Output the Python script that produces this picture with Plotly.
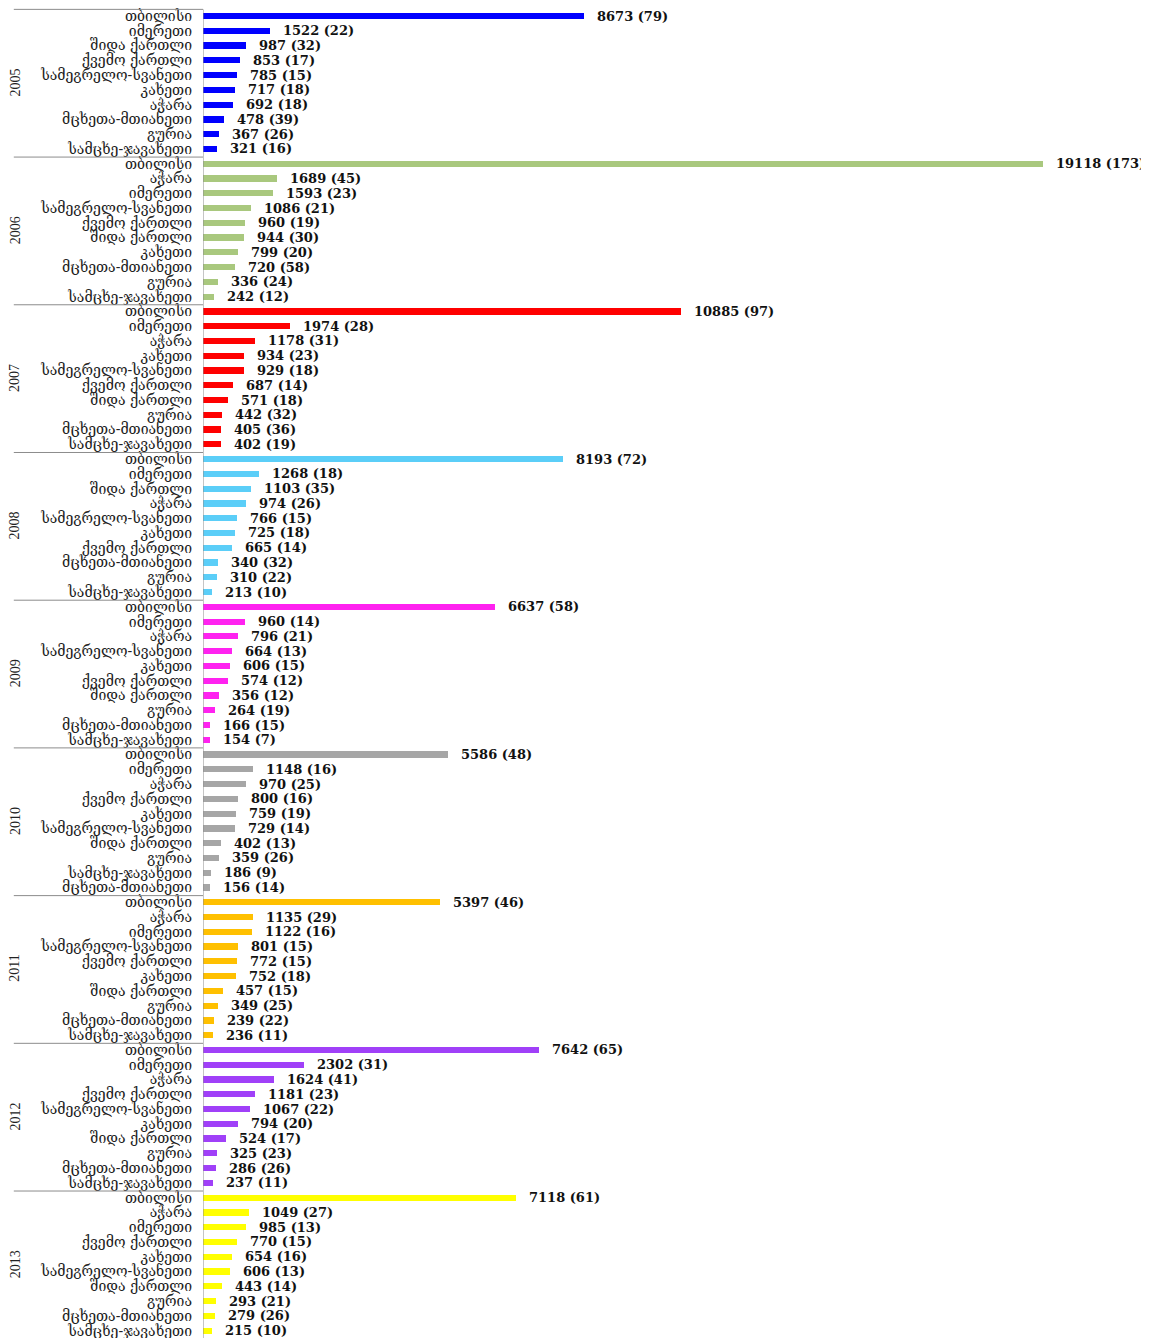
import plotly.graph_objects as go

# მონაცემები წლების მიხედვით: რეგიონი, მნიშვნელობა, რიცხვი ფრჩხილებში
years = ['2005', '2006', '2007', '2008', '2009', '2010', '2011', '2012', '2013']

regions_2005 = ['თბილისი', 'იმერეთი', 'შიდა ქართლი', 'ქვემო ქართლი', 'სამეგრელო-სვანეთი',
                'კახეთი', 'აჭარა', 'მცხეთა-მთიანეთი', 'გურია', 'სამცხე-ჯავახეთი']
values_2005 = [8673, 1522, 987, 853, 785, 717, 692, 478, 367, 321]
counts_2005 = [79, 22, 32, 17, 15, 18, 18, 39, 26, 16]

regions_2006 = ['თბილისი', 'აჭარა', 'იმერეთი', 'სამეგრელო-სვანეთი', 'ქვემო ქართლი',
                'შიდა ქართლი', 'კახეთი', 'მცხეთა-მთიანეთი', 'გურია', 'სამცხე-ჯავახეთი']
values_2006 = [19118, 1689, 1593, 1086, 960, 944, 799, 720, 336, 242]
counts_2006 = [173, 45, 23, 21, 19, 30, 20, 58, 24, 12]

regions_2007 = ['თბილისი', 'იმერეთი', 'აჭარა', 'კახეთი', 'სამეგრელო-სვანეთი',
                'ქვემო ქართლი', 'შიდა ქართლი', 'გურია', 'მცხეთა-მთიანეთი', 'სამცხე-ჯავახეთი']
values_2007 = [10885, 1974, 1178, 934, 929, 687, 571, 442, 405, 402]
counts_2007 = [97, 28, 31, 23, 18, 14, 18, 32, 36, 19]

regions_2008 = ['თბილისი', 'იმერეთი', 'შიდა ქართლი', 'აჭარა', 'სამეგრელო-სვანეთი',
                'კახეთი', 'ქვემო ქართლი', 'მცხეთა-მთიანეთი', 'გურია', 'სამცხე-ჯავახეთი']
values_2008 = [8193, 1268, 1103, 974, 766, 725, 665, 340, 310, 213]
counts_2008 = [72, 18, 35, 26, 15, 18, 14, 32, 22, 10]

regions_2009 = ['თბილისი', 'იმერეთი', 'აჭარა', 'სამეგრელო-სვანეთი', 'კახეთი',
                'ქვემო ქართლი', 'შიდა ქართლი', 'გურია', 'მცხეთა-მთიანეთი', 'სამცხე-ჯავახეთი']
values_2009 = [6637, 960, 796, 664, 606, 574, 356, 264, 166, 154]
counts_2009 = [58, 14, 21, 13, 15, 12, 12, 19, 15, 7]

regions_2010 = ['თბილისი', 'იმერეთი', 'აჭარა', 'ქვემო ქართლი', 'კახეთი',
                'სამეგრელო-სვანეთი', 'შიდა ქართლი', 'გურია', 'სამცხე-ჯავახეთი', 'მცხეთა-მთიანეთი']
values_2010 = [5586, 1148, 970, 800, 759, 729, 402, 359, 186, 156]
counts_2010 = [48, 16, 25, 16, 19, 14, 13, 26, 9, 14]

regions_2011 = ['თბილისი', 'აჭარა', 'იმერეთი', 'სამეგრელო-სვანეთი', 'ქვემო ქართლი',
                'კახეთი', 'შიდა ქართლი', 'გურია', 'მცხეთა-მთიანეთი', 'სამცხე-ჯავახეთი']
values_2011 = [5397, 1135, 1122, 801, 772, 752, 457, 349, 239, 236]
counts_2011 = [46, 29, 16, 15, 15, 18, 15, 25, 22, 11]

regions_2012 = ['თბილისი', 'იმერეთი', 'აჭარა', 'ქვემო ქართლი', 'სამეგრელო-სვანეთი',
                'კახეთი', 'შიდა ქართლი', 'გურია', 'მცხეთა-მთიანეთი', 'სამცხე-ჯავახეთი']
values_2012 = [7642, 2302, 1624, 1181, 1067, 794, 524, 325, 286, 237]
counts_2012 = [65, 31, 41, 23, 22, 20, 17, 23, 26, 11]

regions_2013 = ['თბილისი', 'აჭარა', 'იმერეთი', 'ქვემო ქართლი', 'კახეთი',
                'სამეგრელო-სვანეთი', 'შიდა ქართლი', 'გურია', 'მცხეთა-მთიანეთი', 'სამცხე-ჯავახეთი']
values_2013 = [7118, 1049, 985, 770, 654, 606, 443, 293, 279, 215]
counts_2013 = [61, 27, 13, 15, 16, 13, 14, 21, 26, 10]

colors = ['#0000FF', '#A9C87E', '#FF0000', '#5BCEF8', '#FF22F0',
          '#A6A6A6', '#FFC000', '#A040F8', '#FFFF00']

all_regions = [regions_2005, regions_2006, regions_2007, regions_2008, regions_2009,
               regions_2010, regions_2011, regions_2012, regions_2013]
all_values = [values_2005, values_2006, values_2007, values_2008, values_2009,
              values_2010, values_2011, values_2012, values_2013]
all_counts = [counts_2005, counts_2006, counts_2007, counts_2008, counts_2009,
              counts_2010, counts_2011, counts_2012, counts_2013]

fig = go.Figure()

tickvals = []
ticktext = []
annotations = []
shapes = []

row = 0
for g in range(len(years)):
    rows = list(range(row, row + len(all_values[g])))
    fig.add_trace(go.Bar(
        x=all_values[g], y=rows, orientation='h',
        marker=dict(color=colors[g], line=dict(width=0)),
        width=0.42, showlegend=False, hoverinfo='x'
    ))
    for r, name, v, c in zip(rows, all_regions[g], all_values[g], all_counts[g]):
        tickvals.append(r)
        ticktext.append(name)
        annotations.append(dict(
            x=v, y=r, xref='x', yref='y', text='<b>%d (%d)</b>' % (v, c),
            showarrow=False, xanchor='left', yanchor='middle', xshift=11,
            font=dict(family='DejaVu Serif', size=13, color='#111111')
        ))
    # წლის წარწერა
    annotations.append(dict(
        x=0, y=row + 4.5, xref='paper', yref='y', text=years[g],
        showarrow=False, textangle=-90, xanchor='center', yanchor='middle',
        xshift=-188, font=dict(family='Liberation Serif', size=14, color='#222222')
    ))
    # ჯგუფის გამყოფი ხაზი
    shapes.append(dict(
        type='line', xref='paper', yref='y', x0=-0.2, x1=0,
        y0=row - 0.45, y1=row - 0.45, line=dict(color='#8C8C8C', width=1)
    ))
    row += len(all_values[g])

# ვერტიკალური ღერძის ხაზი
shapes.append(dict(
    type='line', xref='x', yref='y', x0=0, x1=0, y0=-0.45, y1=row + 1,
    line=dict(color='#8C8C8C', width=1)
))

fig.update_layout(
    width=1141, height=1330,
    margin=dict(l=195, r=0, t=0, b=0),
    plot_bgcolor='white', paper_bgcolor='white',
    bargap=0,
    xaxis=dict(range=[0, 21530], visible=False, showgrid=False, zeroline=False),
    yaxis=dict(
        range=[89.5, -0.542],
        tickmode='array', tickvals=tickvals, ticktext=ticktext,
        tickfont=dict(family='DejaVu Serif, DejaVu Sans', size=14, color='#222222'),
        ticks='', showgrid=False, zeroline=False, showline=False,
        ticklabelstandoff=10, ticklabeloverflow='allow'
    ),
    annotations=annotations,
    shapes=shapes
)

fig.write_html("out.html")
